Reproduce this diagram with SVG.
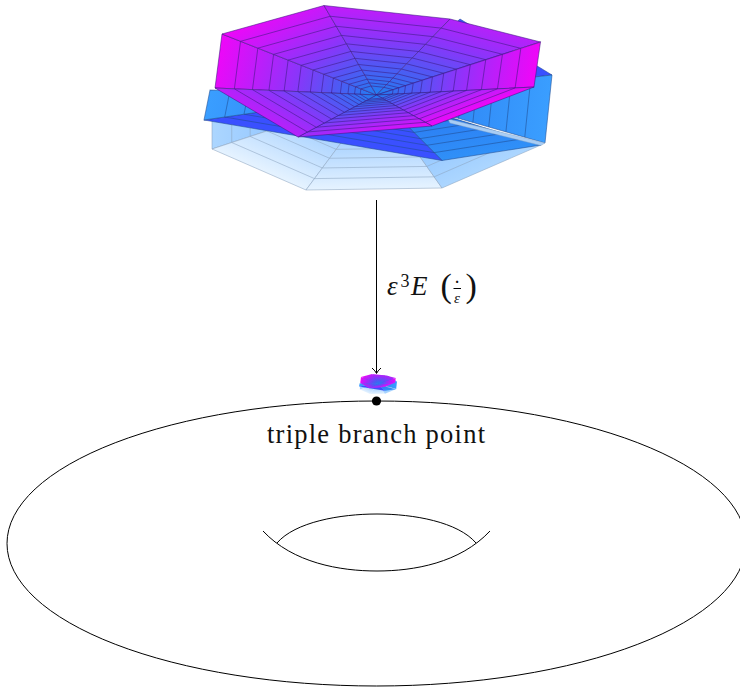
<svg xmlns="http://www.w3.org/2000/svg" width="740" height="687" viewBox="0 0 740 687">
<style>
svg{--m:#3a1a80;--b:#1f4a90;--p:#8ca4bf;--sw:1}
.sec polygon,.sec path{vector-effect:non-scaling-stroke;stroke-width:var(--sw);stroke-opacity:.55}
.sec path{fill:none}
.sm{stroke:var(--m)}.sb{stroke:var(--b)}.sp{stroke:var(--p);stroke-opacity:.85}
.ln{fill:none;stroke:#000;stroke-width:1}
text{font-family:"Liberation Serif","Times New Roman",serif;fill:#111}
</style>
<defs>
<filter id="soft" x="-10%" y="-10%" width="120%" height="120%"><feGaussianBlur stdDeviation=".55"/></filter>
<linearGradient id="ramp"><stop offset="0" stop-color="#2080f0"/><stop offset=".25" stop-color="#5058f4"/><stop offset=".5" stop-color="#8c34fa"/><stop offset=".75" stop-color="#c01cfa"/><stop offset="1" stop-color="#f006f8"/></linearGradient>
<linearGradient id="m1" href="#ramp" gradientUnits="userSpaceOnUse" x1="0" y1="0" x2=".499" y2=".526"/>
<linearGradient id="m2" href="#ramp" gradientUnits="userSpaceOnUse" x1="0" y1="0" x2=".61" y2=".488"/>
<linearGradient id="m3" href="#ramp" gradientUnits="userSpaceOnUse" x1="0" y1="0" x2=".731" y2=".654"/>
<linearGradient id="m4" href="#ramp" gradientUnits="userSpaceOnUse" x1="0" y1="0" x2=".694" y2=".735"/>
<linearGradient id="m5" href="#ramp" gradientUnits="userSpaceOnUse" x1="0" y1="0" x2=".5" y2=".5"/>
<linearGradient id="m7" href="#ramp" gradientUnits="userSpaceOnUse" x1="0" y1="0" x2=".752" y2=".475"/>
<linearGradient id="m8" href="#ramp" gradientUnits="userSpaceOnUse" x1="0" y1="0" x2=".665" y2=".713"/>
<linearGradient id="bw" gradientUnits="userSpaceOnUse" x1="0" y1="0" x2=".5" y2=".5"><stop offset="0" stop-color="#2878f0"/><stop offset="1" stop-color="#3a9eff"/></linearGradient>
<linearGradient id="bd" gradientUnits="userSpaceOnUse" x1="0" y1="0" x2=".5" y2=".5"><stop offset="0" stop-color="#2a70f0"/><stop offset=".6" stop-color="#3a50ff"/><stop offset="1" stop-color="#3a50ff"/></linearGradient>
<linearGradient id="bl" gradientUnits="userSpaceOnUse" x1="0" y1="0" x2=".5" y2=".5"><stop offset="0" stop-color="#2a70f0"/><stop offset="1" stop-color="#2f90f8"/></linearGradient>
<linearGradient id="pa" gradientUnits="userSpaceOnUse" x1="0" y1="0" x2=".5" y2=".5"><stop offset="0" stop-color="#70b0ff"/><stop offset=".55" stop-color="#b0d6ff"/><stop offset="1" stop-color="#e6f3ff"/></linearGradient>
<linearGradient id="pb" gradientUnits="userSpaceOnUse" x1="0" y1="0" x2=".5" y2=".5"><stop offset="0" stop-color="#70b0ff"/><stop offset="1" stop-color="#acd6ff"/></linearGradient>
<g id="secM" class="sec"><polygon class="sm" points="0,0 1,0 0,1"/><path class="sm" d="M.88 0L0 .88M.768 0L0 .768M.666 0L0 .666M.572 0L0 .572M.487 0L0 .487M.41 0L0 .41M.341 0L0 .341M.279 0L0 .279M.224 0L0 .224M.177 0L0 .177M.136 0L0 .136M.101 0L0 .101"/></g>
<g id="secB" class="sec"><polygon class="sb" points="0,0 1,0 0,1"/><path class="sb" d="M.88 0L0 .88M.768 0L0 .768M.666 0L0 .666M.572 0L0 .572M.487 0L0 .487M.41 0L0 .41M.341 0L0 .341M.279 0L0 .279M.224 0L0 .224M.177 0L0 .177"/></g>
<g id="secP" class="sec"><polygon class="sp" points="0,0 1,0 0,1"/><path class="sp" d="M.88 0L0 .88M.768 0L0 .768M.666 0L0 .666M.572 0L0 .572M.487 0L0 .487M.41 0L0 .41M.341 0L0 .341M.279 0L0 .279"/></g>
<g id="surface">
<g id="pale">
<use href="#secP" fill="url(#pb)" transform="matrix(-164.5 54 -164.5 5 376.5 95)"/>
<use href="#secP" fill="url(#pa)" transform="matrix(-164.5 54 -70.5 95 376.5 95)"/>
<use href="#secP" fill="url(#pa)" transform="matrix(-70.5 95 65.5 93 376.5 95)"/>
<use href="#secP" fill="url(#pb)" transform="matrix(65.5 93 164.5 50 376.5 95)"/>
</g>
<g id="blue">
<use href="#secB" fill="url(#bd)" transform="matrix(83.5 -76 175.5 -20 376.5 95)"/>
<use href="#secB" fill="url(#bw)" transform="matrix(175.5 -20 168.5 48 376.5 95)"/>
<use href="#secB" fill="url(#bl)" transform="matrix(164.5 50 65.5 65.5 376.5 95)"/>
<polygon points="448,119 545,143 541,145.5 450,123" fill="#a8cdf5" stroke="#8ca4bf" stroke-width=".4"/>
<use href="#secB" fill="url(#bd)" transform="matrix(65.5 65.5 -172.5 25 376.5 95)"/>
<use href="#secB" fill="url(#bw)" transform="matrix(-172.5 25 -166.5 -5 376.5 95)"/>
</g>
<g id="magenta">
<use href="#secM" fill="url(#m1)" transform="matrix(-161.5 -7 -154.5 -61 376.5 95)"/>
<use href="#secM" fill="url(#m2)" transform="matrix(-154.5 -61 -52.5 -89.5 376.5 95)"/>
<use href="#secM" fill="url(#m3)" transform="matrix(-52.5 -89.5 73.5 -76 376.5 95)"/>
<use href="#secM" fill="url(#m4)" transform="matrix(73.5 -76 164 -53 376.5 95)"/>
<use href="#secM" fill="url(#m5)" transform="matrix(164 -53 157.5 -8 376.5 95)"/>
<use href="#secM" fill="url(#m5)" transform="matrix(157.5 -8 55.5 31 376.5 95)"/>
<use href="#secM" fill="url(#m7)" transform="matrix(55.5 31 -78.5 42 376.5 95)"/>
<use href="#secM" fill="url(#m8)" transform="matrix(-78.5 42 -161.5 -7 376.5 95)"/>
</g>
</g>
</defs>
<use id="surface-large" href="#surface"/>
<g id="surface-small" filter="url(#soft)">
<ellipse cx="378" cy="381.5" rx="17" ry="6.5" fill="#7a3ce0"/>
<g style="--sw:0" transform="translate(378 384) scale(.109) translate(-378 -97.5)"><use href="#surface"/></g>
</g>
<g id="torus">
<ellipse class="ln" cx="376.5" cy="543.5" rx="369.5" ry="142.5"/>
<path class="ln" d="M263 531C293 563 340 571 377 571S460 563 490 531"/>
<path class="ln" d="M277 543C295 522 340 514 377 514S458 522 476 543"/>
</g>
<g id="connectors">
<path class="ln" d="M376.5 200V373"/>
<path class="ln" d="M372 368Q375.5 371 376.5 373.5Q377.5 371 381 368"/>
</g>
<g id="point"><circle cx="376.5" cy="401" r="4.6" fill="#000"/></g>
<g id="labels">
<text x="267" y="443" font-size="26.5" textLength="218" lengthAdjust="spacing">triple branch point</text>
<text x="387" y="295" font-size="27" font-style="italic">ε</text>
<text x="400.5" y="287" font-size="18">3</text>
<text x="411" y="295" font-size="27" font-style="italic">E</text>
<text x="440.5" y="297" font-size="34">(</text>
<text x="465.5" y="297" font-size="34">)</text>
<text x="457" y="286.5" font-size="14" font-weight="bold" text-anchor="middle">·</text>
<path class="ln" d="M453.5 288.5H461"/>
<text x="457" y="303" font-size="15" font-style="italic" text-anchor="middle">ε</text>
</g>
</svg>
